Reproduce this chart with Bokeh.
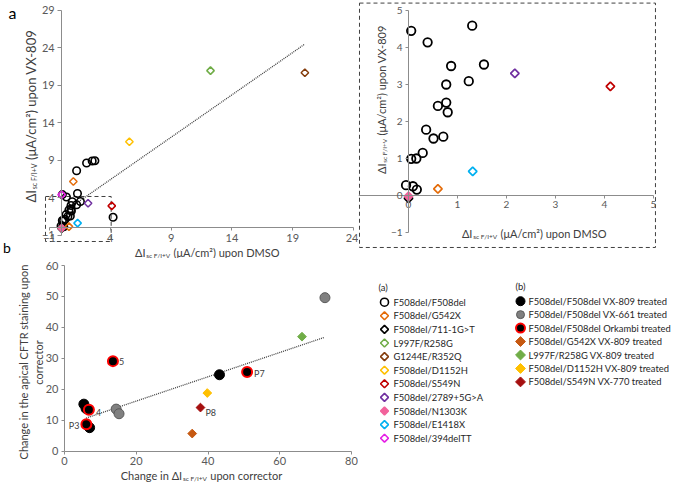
import numpy as np
from bokeh.plotting import figure
from bokeh.models import LinearAxis, FixedTicker, Range1d, Label, ColumnDataSource
from bokeh.layouts import row, column
from bokeh.embed import file_html
from bokeh.resources import INLINE
from bokeh.core.properties import value

FONT = "Lato"

# ---------------- panel a data ----------------
# F508del/F508del points visible in both main plot and inset
ff_low_x = [0.055, 0.39, 1.30, 1.54, 0.87, 0.77, 1.23, 0.60, 0.77, 0.80, 0.36, 0.51, 0.71, 0.29, 0.055, 0.16, -0.05, 0.09, 0.17]
ff_low_y = [4.45, 4.14, 4.59, 3.54, 3.50, 3.00, 3.09, 2.42, 2.51, 2.25, 1.78, 1.54, 1.59, 1.15, 0.99, 1.00, 0.28, 0.25, 0.16]
# F508del/F508del points only in main plot
ff_high_x = [1.23, 2.05, 2.51, 2.73, 4.23]
ff_high_y = [7.63, 8.66, 8.93, 8.97, 1.43]

g542x_x, g542x_y = [0.96, 0.60], [6.2, 0.18]
m711_x, m711_y = [0.0], [-0.08]
l997f_x, l997f_y = [12.24], [20.98]
g1244e_x, g1244e_y = [20.0], [20.7]
d1152h_x, d1152h_y = [5.57], [11.5]
s549n_x, s549n_y = [4.12], [2.95]
m2789_x, m2789_y = [2.17], [3.30]
n1303k_x, n1303k_y = [0.0], [-0.02]
e1418x_x, e1418x_y = [1.31], [0.65]
del394_x, del394_y = [0.0], [4.45]

trend_a_x = [0.3, 20.0]
trend_a_y = [2.27, 24.53]

a_names = ["F508del/F508del", "F508del/G542X", "F508del/711-1G>T", "L997F/R258G",
           "G1244E/R352Q", "F508del/D1152H", "F508del/S549N", "F508del/2789+5G>A",
           "F508del/N1303K", "F508del/E1418X", "F508del/394delTT"]
a_colors = ["#000000", "#E46C0A", "#000000", "#70AD47", "#843C0C", "#FFC000",
            "#C00000", "#7030A0", "#F2629B", "#00B0F0", "#E51EE5"]
a_filled = [False, False, False, False, False, False, False, False, True, False, False]

main_ticks_x = [-1, 4, 9, 14, 19, 24]
main_ticks_y = [-1, 4, 9, 14, 19, 24, 29]
inset_ticks_x = [0, 1, 2, 3, 4, 5]
inset_ticks_y = [-1, 0, 1, 2, 3, 4, 5]

# ---------------- panel b data ----------------
b809_x, b809_y = [5.4, 6.0, 7.0, 43.2], [15.2, 13.8, 7.6, 24.7]
b661_x, b661_y = [14.4, 15.2, 72.6], [13.6, 12.1, 49.6]
bork_x, bork_y = [13.5, 6.8, 6.1, 50.9], [29.1, 13.4, 8.7, 25.6]
bg542x_x, bg542x_y = [35.6], [5.7]
bl997f_x, bl997f_y = [66.2], [37.0]
bd1152h_x, bd1152h_y = [39.8], [18.8]
bs549n_x, bs549n_y = [37.9], [14.1]
trend_b_x = [6.0, 72.5]
trend_b_y = [10.7, 36.8]

b_lbl_right = ["5", "4", "P7", "P8"]
b_lbl_right_x = [13.5, 6.8, 50.9, 37.9]
b_lbl_right_y = [29.1, 13.4, 25.6, 14.1]
b_lbl_left = ["P3"]
b_lbl_left_x = [6.1]
b_lbl_left_y = [8.7]

b_names = ["F508del/F508del VX-809 treated", "F508del/F508del VX-661 treated",
           "F508del/F508del Orkambi treated", "F508del/G542X VX-809 treated",
           "L997F/R258G VX-809 treated", "F508del/D1152H VX-809 treated",
           "F508del/S549N VX-770 treated"]
b_fill = ["#000000", "#808080", "#000000", "#C65911", "#70AD47", "#FFC000", "#A50F0F"]
b_line = ["#000000", "#595959", "#FF0000", "#C65911", "#70AD47", "#FFC000", "#A50F0F"]
b_marker = ["circle", "circle", "circle", "square", "square", "square", "square"]

b_ticks_x = [0, 20, 40, 60, 80]
b_ticks_y = [0, 10, 20, 30, 40, 50, 60]

# ---------------- helpers ----------------
EM = {' ': 0.19, '(': 0.29, ')': 0.29, '/': 0.36, '+': 0.58, '-': 0.34,
      'A': 0.68, 'C': 0.67, 'D': 0.74, 'F': 0.55, 'I': 0.26, 'M': 0.9, 'O': 0.79,
      'S': 0.5, 'V': 0.67, 'X': 0.63, 'a': 0.49, 'c': 0.46, 'd': 0.56, 'e': 0.52,
      'g': 0.5, 'h': 0.55, 'i': 0.23, 'm': 0.83, 'n': 0.55, 'o': 0.56, 'p': 0.55,
      'r': 0.36, 's': 0.41, 't': 0.34, 'u': 0.55, '\u0394': 0.66, '\u03bc': 0.55, '\u00b2': 0.36}
for d in "0123456789":
    EM[d] = 0.58


def tw(s, size):
    return sum(EM.get(ch, 0.55) for ch in s) * size


LBL = "#404040"


def rich(p, x, y, m1, sub, m2, size, subsize, vertical=False, color=LBL):
    w1, w2, w3 = tw(m1, size), tw(sub, subsize) * 1.12 + 2.0, tw(m2, size)
    W = w1 + w2 + w3
    a = -W / 2 + w1
    pieces = [(m1, size, "right", a, 0), (sub, subsize, "left", a + 0.8, 3),
              (m2, size, "left", a + w2 + 0.8, 0)]
    for text, sz, align, along, perp in pieces:
        if vertical:
            xo, yo, ang = perp, along, np.pi / 2
        else:
            xo, yo, ang = along, -perp, 0.0
        p.add_layout(Label(x=x, y=y, text=text, angle=ang, text_align=align,
                           text_baseline="middle", x_offset=xo, y_offset=yo,
                           text_font=FONT, text_font_size=f"{sz}px", text_color=color))


def style_axis(ax, fs, tick_out=3):
    ax.axis_line_color = "#8c8c8c"
    ax.major_tick_line_color = "#8c8c8c"
    ax.minor_tick_line_color = None
    ax.major_tick_in = 0
    ax.major_tick_out = tick_out
    ax.major_label_text_font = FONT
    ax.major_label_text_font_size = f"{fs}px"
    ax.major_label_text_color = "#595959"
    ax.major_label_standoff = 3


def base_fig(w, h, xr, yr):
    p = figure(width=w, height=h, x_range=Range1d(*xr), y_range=Range1d(*yr),
               x_axis_location=None, y_axis_location=None, toolbar_location=None,
               output_backend="svg", min_border_left=0, min_border_right=0,
               min_border_top=0, min_border_bottom=0, title=None)
    p.outline_line_color = None
    p.grid.visible = False
    p.background_fill_color = "white"
    p.border_fill_color = "white"
    return p


def add_axes(p, xticks, yticks, xb, yb, fs, xout=3, yout=3):
    xa = LinearAxis(fixed_location=0, bounds=xb, ticker=FixedTicker(ticks=xticks))
    ya = LinearAxis(fixed_location=0, bounds=yb, ticker=FixedTicker(ticks=yticks))
    style_axis(xa, fs, xout)
    style_axis(ya, fs, yout)
    p.add_layout(xa, "below")
    p.add_layout(ya, "left")


def diamonds(p, xs, ys, color, filled, size, lw):
    p.scatter(xs, ys, marker="square", angle=np.pi / 4, size=size,
              fill_color=color if filled else None, line_color=color, line_width=lw)


diamond_series = [(g542x_x, g542x_y, 1), (m711_x, m711_y, 2), (l997f_x, l997f_y, 3),
                  (g1244e_x, g1244e_y, 4), (d1152h_x, d1152h_y, 5), (s549n_x, s549n_y, 6),
                  (m2789_x, m2789_y, 7), (n1303k_x, n1303k_y, 8), (e1418x_x, e1418x_y, 9),
                  (del394_x, del394_y, 10)]

# ---------------- main panel a (page x 0..358, y 0..258) ----------------
# x = -1 at px 49, 12.16 px/unit ; y = 29 at px 10, 7.5 px/unit
pA = base_fig(358, 258, (-5.03, 24.41), (-4.067, 30.333))
add_axes(pA, main_ticks_x, main_ticks_y, (-1, 24), (-1, 29), 11, 3, 4)

pA.quad(left=[-1.33], right=[4.07], bottom=[-1.8], top=[4.2], fill_color=None,
        line_color="#404040", line_dash="4 3", line_width=1)
pA.line(trend_a_x, trend_a_y, line_color="#404040", line_dash="1 1", line_width=1.3)
pA.scatter(ff_low_x + ff_high_x, ff_low_y + ff_high_y, marker="circle", size=7.5,
           fill_color=None, line_color="black", line_width=1.6)
for xs, ys, i in diamond_series:
    diamonds(pA, xs, ys, a_colors[i], a_filled[i], 5.3, 1.5)

rich(pA, -2.56, 14.87, "\u0394I", "sc F/I+V", " (\u03bcA/cm\u00b2) upon VX-809", 13, 7, vertical=True)
rich(pA, 11.91, -3.23, "\u0394I", "sc F/I+V", " (\u03bcA/cm\u00b2) upon DMSO", 11, 6.5)
pA.add_layout(Label(x=-4.04, y=28.73, text="a", text_font=FONT, text_font_size="16px",
                    text_align="center", text_baseline="middle", text_color="black"))
pA.add_layout(Label(x=-4.5, y=-3.73, text="b", text_font=FONT, text_font_size="14px",
                    text_align="center", text_baseline="bottom", text_color="black"))

# ---------------- inset (page x 358..675, y 0..258) ----------------
# x = 0 at px 408, 49 px/unit ; y = 0 at px 195, 37 px/unit
pI = base_fig(317, 258, (-1.0204, 5.449), (-1.703, 5.270))
add_axes(pI, inset_ticks_x, inset_ticks_y, (-1.02, 5), (-1, 5), 10)
pI.quad(left=[-1.0], right=[5.04], bottom=[-1.405], top=[5.2], fill_color=None,
        line_color="#404040", line_dash="4 3", line_width=1)
pI.scatter(ff_low_x, ff_low_y, marker="circle", size=8.5, fill_color=None,
           line_color="black", line_width=1.8)
for xs, ys, i in diamond_series[:-1]:
    diamonds(pI, xs, ys, a_colors[i], a_filled[i], 6.0, 1.7)
rich(pI, -0.557, 2.58, "\u0394I", "sc F/I+V", " (\u03bcA/cm\u00b2) upon VX-809", 11, 6.5, vertical=True)
rich(pI, 2.55, -1.03, "\u0394I", "sc F/I+V", " (\u03bcA/cm\u00b2) upon DMSO", 11, 6.5)

# ---------------- panel b (page x 0..358, y 258..484) ----------------
# x = 0 at px 64, 3.5875 px/unit ; y = 0 at px 450.7, 3.095 px/unit
pB = base_fig(358, 226, (-17.84, 81.95), (-10.76, 62.26))
add_axes(pB, b_ticks_x, b_ticks_y, (0, 80), (0, 60), 11)
pB.line(trend_b_x, trend_b_y, line_color="#404040", line_dash="1 1", line_width=1.3)
pB.scatter(b661_x, b661_y, marker="circle", size=10, fill_color=b_fill[1], line_color=b_line[1], line_width=1)
pB.scatter(b809_x, b809_y, marker="circle", size=10, fill_color=b_fill[0], line_color=b_line[0], line_width=1)
pB.scatter(bork_x, bork_y, marker="circle", size=10, fill_color=b_fill[2], line_color=b_line[2], line_width=2)
for xs, ys, i in [(bg542x_x, bg542x_y, 3), (bl997f_x, bl997f_y, 4),
                  (bd1152h_x, bd1152h_y, 5), (bs549n_x, bs549n_y, 6)]:
    pB.scatter(xs, ys, marker="square", angle=np.pi / 4, size=6.2,
               fill_color=b_fill[i], line_color=b_line[i], line_width=1)
pB.text(b_lbl_right_x, b_lbl_right_y, text=b_lbl_right, x_offset=[6, 7, 7, 5], y_offset=[0, 3, 2, 5],
        text_align="left", text_baseline="middle", text_font=value(FONT),
        text_font_size="9px", text_color="#404040")
pB.text(b_lbl_left_x, b_lbl_left_y, text=b_lbl_left, x_offset=[-7], y_offset=[1],
        text_align="right", text_baseline="middle", text_font=value(FONT),
        text_font_size="9px", text_color="#404040")
pB.add_layout(Label(x=-11.51, y=28.79, text="Change in the apical CFTR staining upon",
                    angle=np.pi / 2, text_align="center", text_baseline="middle",
                    text_font=FONT, text_font_size="11px", text_color=LBL))
pB.add_layout(Label(x=-7.33, y=28.66, text="corrector", angle=np.pi / 2, text_align="center",
                    text_baseline="middle", text_font=FONT, text_font_size="11px", text_color=LBL))
rich(pB, 38.47, -7.85, "Change in \u0394I", "sc F/I+V", " upon corrector", 11, 6.5)

# ---------------- legends (page x 358..675, y 258..484) ----------------
pL = base_fig(317, 226, (0, 317), (226, 0))
LFS = "9.4px"
ra = np.arange(len(a_names))
la_y = 43.7 + 13.6 * ra
la_marker = ["circle"] + ["square"] * (len(a_names) - 1)
la_angle = [0.0] + [np.pi / 4] * (len(a_names) - 1)
la_size = [8] + [5.6] * (len(a_names) - 1)
la_fill = [c if f else None for c, f in zip(a_colors, a_filled)]
srcA = ColumnDataSource(dict(x=[26] * len(a_names), y=la_y, marker=la_marker, angle=la_angle,
                             size=la_size, fill=la_fill, line=a_colors))
pL.scatter("x", "y", marker="marker", angle="angle", size="size", fill_color="fill",
           line_color="line", line_width=1.6, source=srcA)
pL.text([35] * len(a_names), la_y, text=a_names, text_align="left", text_baseline="middle",
        text_font=value(FONT), text_font_size=LFS, text_color="#262626")

rb = np.arange(len(b_names))
lb_y = 42.7 + 13.45 * rb
srcB = ColumnDataSource(dict(x=[162] * len(b_names), y=lb_y, marker=b_marker,
                             angle=[0, 0, 0] + [np.pi / 4] * 4, size=[9, 8, 9, 7, 7, 7, 7],
                             fill=b_fill, line=b_line, lw=[1, 1, 2, 1, 1, 1, 1]))
pL.scatter("x", "y", marker="marker", angle="angle", size="size", fill_color="fill",
           line_color="line", line_width="lw", source=srcB)
pL.text([170] * len(b_names), lb_y, text=b_names, text_align="left", text_baseline="middle",
        text_font=value(FONT), text_font_size=LFS, text_color="#262626")
pL.text([20, 157], [29, 28], text=["(a)", "(b)"], text_align="left", text_baseline="middle",
        text_font=value(FONT), text_font_size=LFS, text_color="#262626")

layout = column(row(pA, pI), row(pB, pL))
open("out.html", "w").write(file_html(layout, INLINE))
